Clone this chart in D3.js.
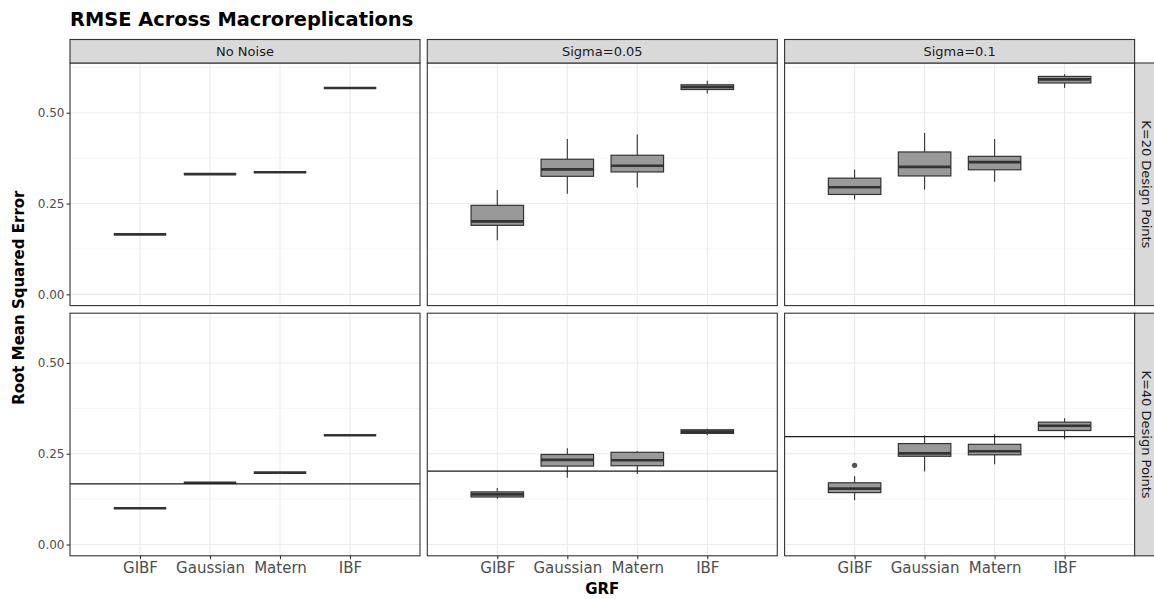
<!DOCTYPE html>
<html>
<head>
<meta charset="utf-8">
<script src="https://cdn.jsdelivr.net/npm/d3@7"></script>
<style>
  body { margin:0; background:#fff; }
  text { font-family: "DejaVu Sans", sans-serif; }
</style>
</head>
<body>
<div id="chart"></div>
<script>
// facets and categories
var grfLevels = ["GIBF", "Gaussian", "Matern", "IBF"];
var noiseLevels = ["No Noise", "Sigma=0.05", "Sigma=0.1"];
var designLevels = ["K=20 Design Points", "K=40 Design Points"];

// box stats per panel: [lower whisker, q1, median, q3, upper whisker] per GRF
var k20NoNoise = [[0.165,0.165,0.165,0.165,0.165], [0.331,0.331,0.331,0.331,0.331], [0.336,0.336,0.336,0.336,0.336], [0.568,0.568,0.568,0.568,0.568]];
var k20Sigma05 = [[0.149,0.190,0.201,0.245,0.287], [0.277,0.325,0.344,0.372,0.428], [0.294,0.337,0.354,0.383,0.440], [0.553,0.564,0.571,0.577,0.588]];
var k20Sigma10 = [[0.261,0.275,0.295,0.320,0.344], [0.289,0.326,0.351,0.392,0.444], [0.310,0.343,0.364,0.380,0.428], [0.568,0.582,0.592,0.600,0.606]];
var k40NoNoise = [[0.100,0.100,0.100,0.100,0.100], [0.170,0.170,0.170,0.170,0.170], [0.198,0.198,0.198,0.198,0.198], [0.301,0.301,0.301,0.301,0.301]];
var k40Sigma05 = [[0.126,0.131,0.138,0.145,0.156], [0.184,0.216,0.233,0.248,0.265], [0.194,0.217,0.232,0.254,0.257], [0.301,0.306,0.311,0.316,0.319]];
var k40Sigma10 = [[0.122,0.143,0.154,0.170,0.188], [0.201,0.243,0.251,0.278,0.300], [0.221,0.247,0.257,0.276,0.304], [0.290,0.314,0.327,0.337,0.348]];

var panelStats = [[k20NoNoise, k20Sigma05, k20Sigma10], [k40NoNoise, k40Sigma05, k40Sigma10]];

// outliers: row, col, grf, value
var outliers = [{row:1, col:2, grf:"GIBF", value:0.218}];

// reference lines for K=40 row
var k40Reference = [0.167, 0.202, 0.297];

var yTicks = [0, 0.25, 0.5];
var yMinor = [0.125, 0.375, 0.625];

var W = 1154, H = 599;
var panelLeft = 70, panelW = 350, panelGap = 7.3;
var rowTop = [63, 313.2], panelH = 242.6;
var stripH = 23.5;

var svg = d3.select("#chart").append("svg")
    .attr("width", W)
    .attr("height", H);

var x = d3.scalePoint()
    .domain(grfLevels)
    .range([0, panelW])
    .padding(1);

var y = d3.scaleLinear()
    .domain([-0.031, 0.637])
    .range([panelH, 0]);

var boxW = 0.75 * x.step();

// title
svg.append("text")
    .attr("x", 70)
    .attr("y", 26)
    .attr("font-size", 19.4)
    .attr("font-weight", "bold")
    .attr("fill", "#000")
    .text("RMSE Across Macroreplications");

designLevels.forEach(function(design, r) {
    noiseLevels.forEach(function(noise, c) {
        var px = panelLeft + c * (panelW + panelGap);
        var py = rowTop[r];
        var g = svg.append("g").attr("transform", "translate(" + px + "," + py + ")");

        g.append("rect").attr("width", panelW).attr("height", panelH).attr("fill", "#fff");

        // grid
        g.selectAll(".minor").data(yMinor).enter().append("line")
            .attr("x1", 0).attr("x2", panelW)
            .attr("y1", function(d){ return y(d); }).attr("y2", function(d){ return y(d); })
            .attr("stroke", "#f4f4f4").attr("stroke-width", 0.8);
        g.selectAll(".major").data(yTicks).enter().append("line")
            .attr("x1", 0).attr("x2", panelW)
            .attr("y1", function(d){ return y(d); }).attr("y2", function(d){ return y(d); })
            .attr("stroke", "#ebebeb").attr("stroke-width", 1.1);
        g.selectAll(".vgrid").data(grfLevels).enter().append("line")
            .attr("y1", 0).attr("y2", panelH)
            .attr("x1", function(d){ return x(d); }).attr("x2", function(d){ return x(d); })
            .attr("stroke", "#ebebeb").attr("stroke-width", 1.1);

        var stats = panelStats[r][c];
        var boxes = g.selectAll(".box").data(stats).enter().append("g")
            .attr("transform", function(d, i){ return "translate(" + x(grfLevels[i]) + ",0)"; });

        // whiskers
        boxes.append("line")
            .attr("x1", 0).attr("x2", 0)
            .attr("y1", function(d){ return y(d[0]); })
            .attr("y2", function(d){ return y(d[1]); })
            .attr("stroke", "#333").attr("stroke-width", 1.1);
        boxes.append("line")
            .attr("x1", 0).attr("x2", 0)
            .attr("y1", function(d){ return y(d[3]); })
            .attr("y2", function(d){ return y(d[4]); })
            .attr("stroke", "#333").attr("stroke-width", 1.1);
        boxes.append("rect")
            .attr("x", -boxW / 2)
            .attr("width", boxW)
            .attr("y", function(d){ return y(d[3]); })
            .attr("height", function(d){ return y(d[1]) - y(d[3]); })
            .attr("fill", "#999999")
            .attr("stroke", "#333").attr("stroke-width", 1.2);
        boxes.append("line")
            .attr("x1", -boxW / 2).attr("x2", boxW / 2)
            .attr("y1", function(d){ return y(d[2]); })
            .attr("y2", function(d){ return y(d[2]); })
            .attr("stroke", "#333").attr("stroke-width", 2.6);

        // outliers
        g.selectAll(".outlier")
            .data(outliers.filter(function(o){ return o.row === r && o.col === c; }))
            .enter().append("circle")
            .attr("cx", function(d){ return x(d.grf); })
            .attr("cy", function(d){ return y(d.value); })
            .attr("r", 2.7)
            .attr("fill", "#555");

        // reference line
        if (r === 1) {
            g.append("line")
                .attr("x1", 0).attr("x2", panelW)
                .attr("y1", y(k40Reference[c])).attr("y2", y(k40Reference[c]))
                .attr("stroke", "#1a1a1a").attr("stroke-width", 1.2);
        }

        // border
        g.append("rect").attr("width", panelW).attr("height", panelH)
            .attr("fill", "none").attr("stroke", "#333").attr("stroke-width", 1.1);

        // top strip
        if (r === 0) {
            g.append("rect").attr("x", 0).attr("y", -stripH)
                .attr("width", panelW).attr("height", stripH)
                .attr("fill", "#d9d9d9").attr("stroke", "#333").attr("stroke-width", 1.1);
            g.append("text")
                .attr("x", panelW / 2).attr("y", -stripH / 2)
                .attr("dy", "0.35em")
                .attr("text-anchor", "middle")
                .attr("font-size", 13)
                .attr("fill", "#1a1a1a")
                .text(noise);
        }

        // right strip
        if (c === noiseLevels.length - 1) {
            g.append("rect").attr("x", panelW).attr("y", 0)
                .attr("width", stripH).attr("height", panelH)
                .attr("fill", "#d9d9d9").attr("stroke", "#333").attr("stroke-width", 1.1);
            g.append("text")
                .attr("transform", "translate(" + (panelW + stripH / 2) + "," + (panelH / 2) + ") rotate(90)")
                .attr("dy", "0.35em")
                .attr("text-anchor", "middle")
                .attr("font-size", 13)
                .attr("fill", "#1a1a1a")
                .text(design);
        }

        // axes
        if (c === 0) {
            var ay = g.append("g")
                .call(d3.axisLeft(y).tickValues(yTicks).tickFormat(d3.format(".2f")).tickSize(3.5).tickPadding(2));
            ay.select(".domain").remove();
            ay.selectAll("line").attr("stroke", "#333").attr("stroke-width", 1.1);
            ay.selectAll("text").attr("font-size", 12).attr("fill", "#4d4d4d")
                .attr("font-family", "DejaVu Sans");
        }
        if (r === 1) {
            var ax = g.append("g")
                .attr("transform", "translate(0," + panelH + ")")
                .call(d3.axisBottom(x).tickSize(3.5).tickPadding(3));
            ax.select(".domain").remove();
            ax.selectAll("line").attr("stroke", "#333").attr("stroke-width", 1.1);
            ax.selectAll("text").attr("font-size", 15).attr("fill", "#4d4d4d")
                .attr("font-family", "DejaVu Sans");
        }
    });
});

// axis titles
svg.append("text")
    .attr("transform", "translate(19," + ((rowTop[0] - stripH) + (rowTop[1] + panelH - rowTop[0] + stripH) / 2) + ") rotate(-90)")
    .attr("dy", "0.35em")
    .attr("text-anchor", "middle")
    .attr("font-size", 15)
    .attr("font-weight", "bold")
    .attr("fill", "#000")
    .text("Root Mean Squared Error");

svg.append("text")
    .attr("x", panelLeft + (3 * panelW + 2 * panelGap) / 2)
    .attr("y", 594)
    .attr("text-anchor", "middle")
    .attr("font-size", 15)
    .attr("font-weight", "bold")
    .attr("fill", "#000")
    .text("GRF");
</script>
</body>
</html>
